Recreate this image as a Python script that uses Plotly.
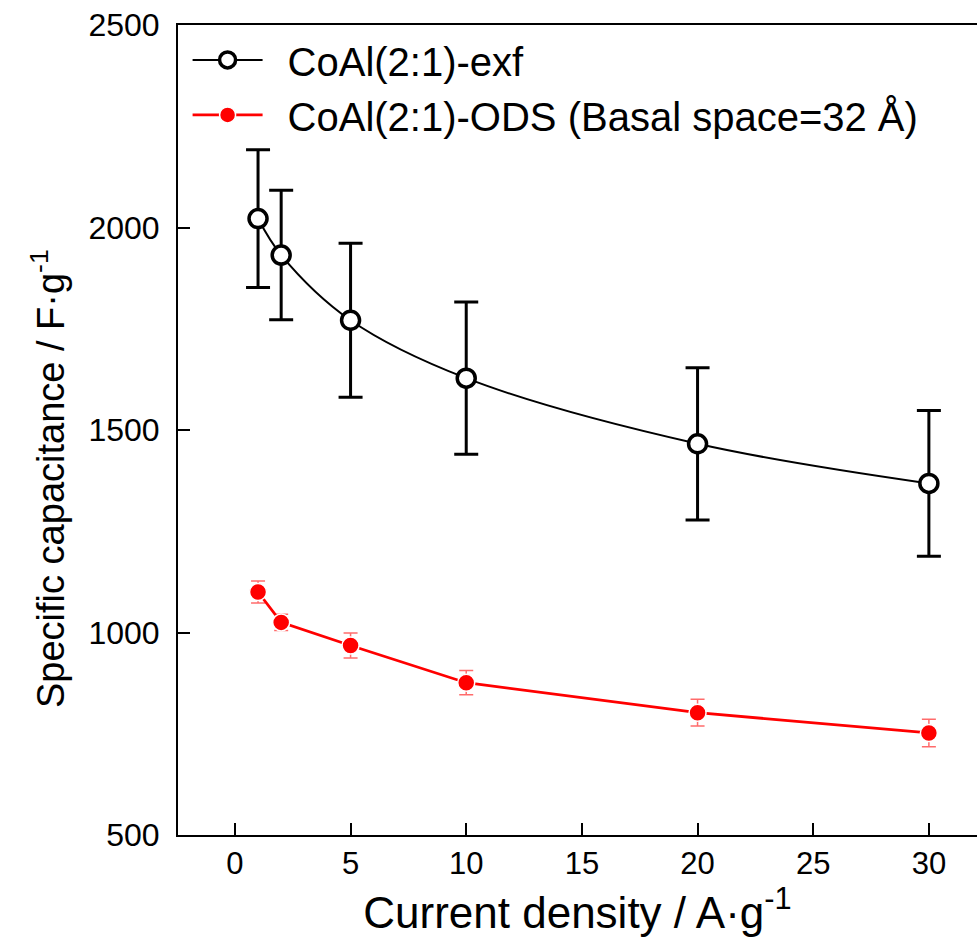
import plotly.graph_objects as go

current_density = [1, 2, 5, 10, 20, 30]

exf_capacitance = [2022, 1932, 1771, 1628, 1466, 1368]
exf_error = [170, 160, 190, 188, 188, 180]

ods_capacitance = [1100, 1025, 968, 876, 802, 752]
ods_error = [27, 20, 31, 30, 33, 34]

x_ticks = [0, 5, 10, 15, 20, 25, 30]
y_ticks = [500, 1000, 1500, 2000, 2500]

FONT = "Liberation Sans, Arial, sans-serif"

fig = go.Figure()

fig.add_trace(go.Scatter(
    x=current_density, y=exf_capacitance,
    name="\u2002CoAl(2:1)-exf",
    mode="lines+markers",
    line=dict(color="black", width=2, shape="spline", smoothing=1.0),
    marker=dict(symbol="circle", size=18, color="white",
                line=dict(color="black", width=3.5)),
    error_y=dict(type="data", array=exf_error, visible=True,
                 color="black", thickness=3, width=12),
))

fig.add_trace(go.Scatter(
    x=current_density, y=ods_capacitance,
    name="\u2002CoAl(2:1)-ODS (Basal space=32 Å)",
    mode="lines+markers",
    line=dict(color="#ff0000", width=2.8),
    marker=dict(symbol="circle", size=17, color="#ff0000",
                line=dict(color="white", width=1.5)),
    error_y=dict(type="data", array=ods_error, visible=True,
                 color="rgba(255,70,70,0.8)", thickness=1.5, width=7),
))

fig.update_layout(
    width=977, height=941,
    margin=dict(l=178, r=0, t=25, b=106),
    paper_bgcolor="white", plot_bgcolor="white",
    font=dict(family=FONT, color="black"),
    showlegend=True,
    legend=dict(
        x=0.012, y=0.997, xanchor="left", yanchor="top",
        font=dict(family=FONT, size=40, color="black"),
        bgcolor="rgba(0,0,0,0)", itemwidth=70,
        tracegroupgap=0,
    ),
    xaxis=dict(
        range=[-2.46, 32.08],
        tickmode="array", tickvals=x_ticks,
        ticks="inside", ticklen=12, tickwidth=2, tickcolor="black",
        showline=True, linewidth=2, linecolor="black", mirror=True,
        showgrid=False, zeroline=False,
        tickfont=dict(family=FONT, size=31),
        title=dict(text="Current density / A·g<sup>-1</sup>",
                   font=dict(family=FONT, size=44), standoff=4),
    ),
    yaxis=dict(
        range=[500, 2500],
        tickmode="array", tickvals=y_ticks,
        ticks="inside", ticklen=12, tickwidth=2, tickcolor="black",
        showline=True, linewidth=2, linecolor="black", mirror=False,
        showgrid=False, zeroline=False,
        tickfont=dict(family=FONT, size=32),
        ticklabelstandoff=10,
    ),
    annotations=[dict(
        text="Specific capacitance / F·g<sup>-1</sup>",
        textangle=-90, xref="paper", yref="paper",
        x=0, y=0.4395, xanchor="center", yanchor="middle",
        xshift=-130, showarrow=False,
        font=dict(family=FONT, size=38, color="black"),
    )],
)

fig.write_html("out.html")
